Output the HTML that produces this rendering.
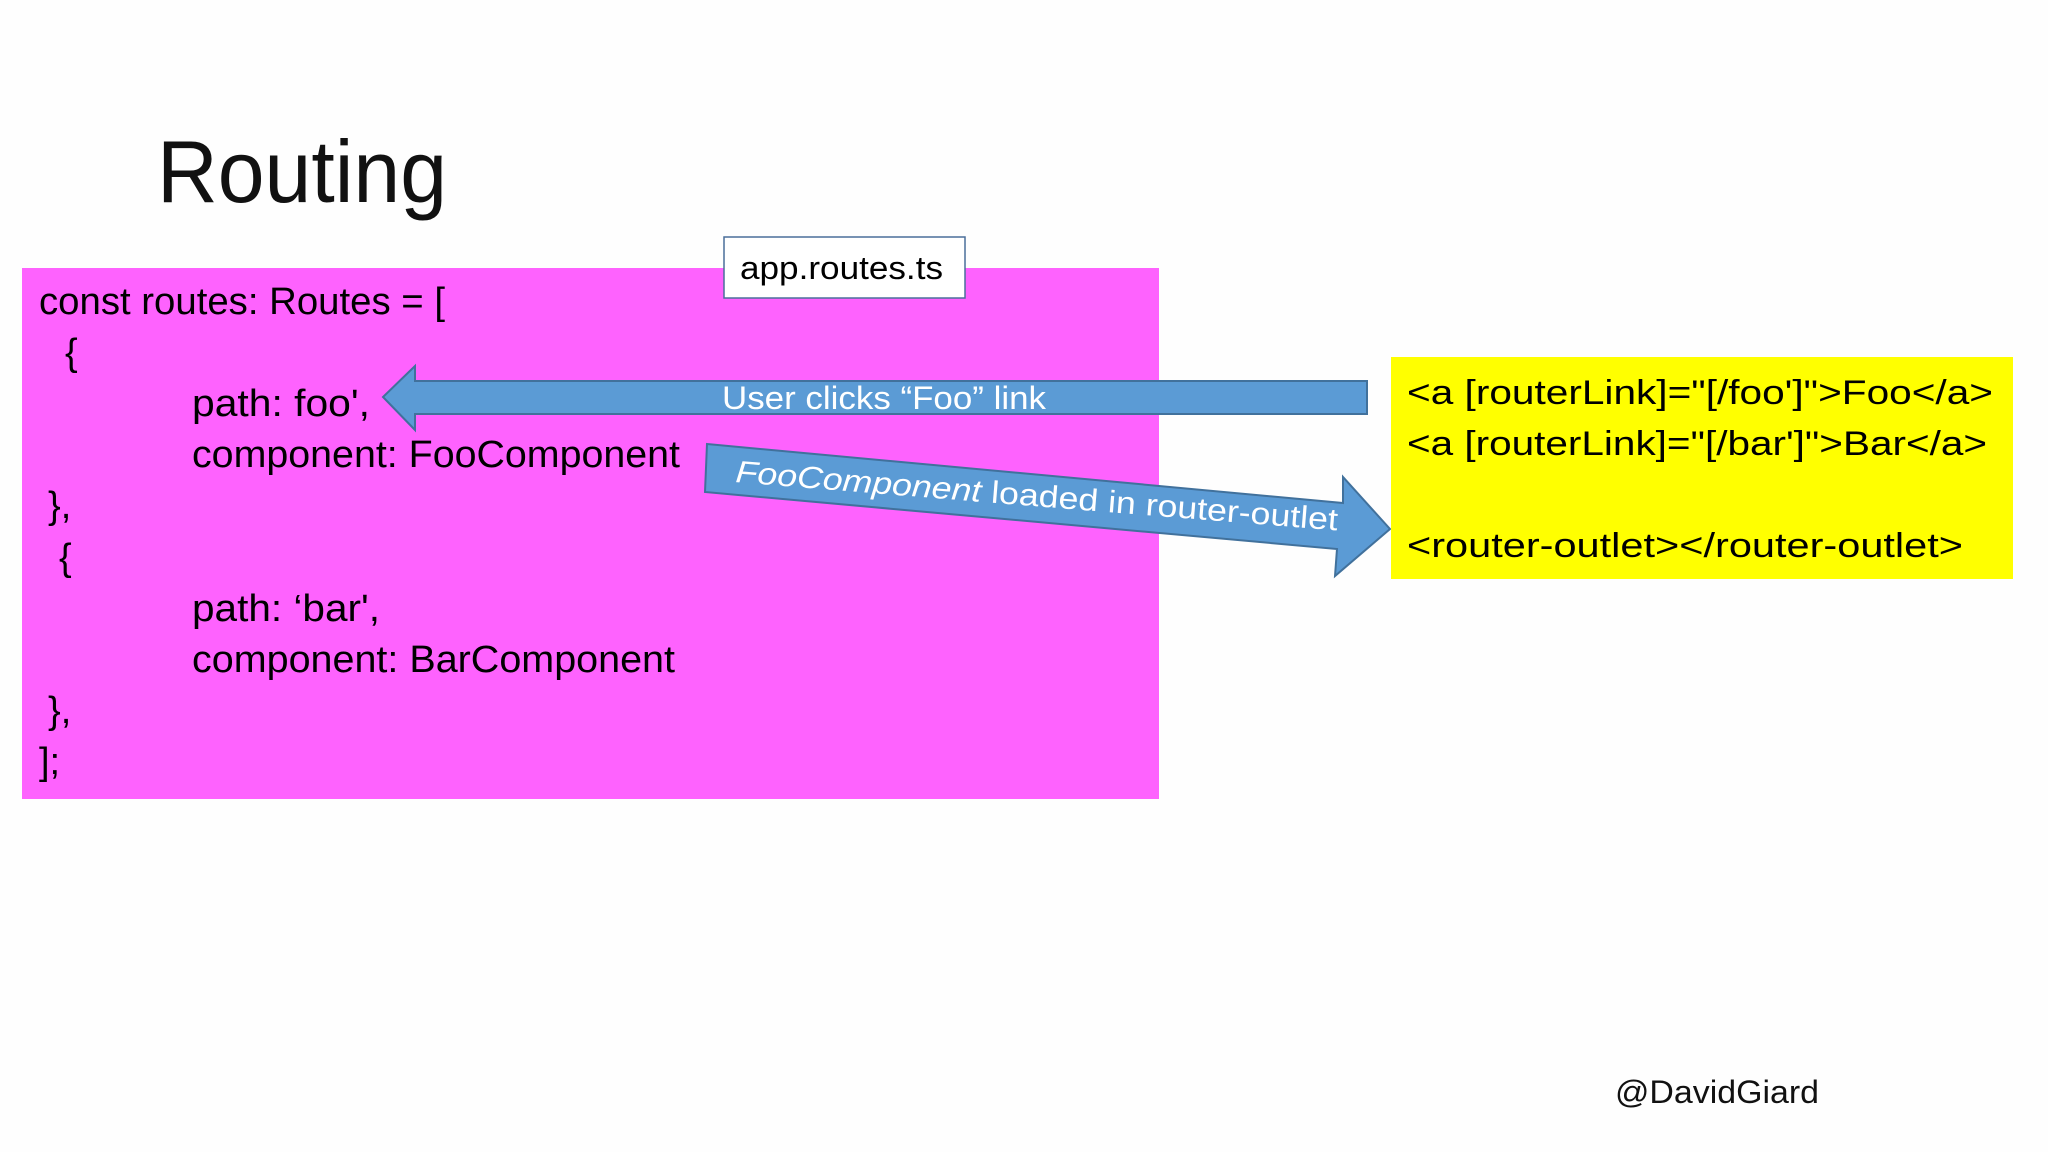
<!DOCTYPE html>
<html><head><meta charset="utf-8"><style>
html,body{margin:0;padding:0;background:#fff;width:2048px;height:1152px;overflow:hidden}
svg{display:block}
text{font-family:"Liberation Sans",sans-serif}
</style></head><body>
<svg width="2048" height="1152" viewBox="0 0 2048 1152" xmlns="http://www.w3.org/2000/svg">
<rect width="2048" height="1152" fill="#fefefe"/>
<text x="157" y="202" font-size="88" fill="#111" textLength="290" lengthAdjust="spacingAndGlyphs">Routing</text>
<rect x="22" y="268" width="1137" height="531" fill="#fe62fe"/>
<g font-size="38" fill="#000">
<text x="39" y="314" textLength="406" lengthAdjust="spacingAndGlyphs">const routes: Routes = [</text>
<text x="65" y="365">{</text>
<text x="192" y="416" textLength="178" lengthAdjust="spacingAndGlyphs">path: foo',</text>
<text x="192" y="467" textLength="488" lengthAdjust="spacingAndGlyphs">component: FooComponent</text>
<text x="48" y="518">},</text>
<text x="59" y="570">{</text>
<text x="192" y="621" textLength="188" lengthAdjust="spacingAndGlyphs">path: ‘bar',</text>
<text x="192" y="672" textLength="483" lengthAdjust="spacingAndGlyphs">component: BarComponent</text>
<text x="48" y="723">},</text>
<text x="39" y="774">];</text>
</g>
<rect x="724" y="237" width="241" height="61" fill="#fff" stroke="#4a6f9a" stroke-width="1.5"/>
<text x="740" y="279" font-size="32" fill="#000" textLength="203" lengthAdjust="spacingAndGlyphs">app.routes.ts</text>
<polygon points="1367,381 415,381 415,366 383,397 415,430 415,414 1367,414" fill="#5b9bd5" stroke="#41719c" stroke-width="2"/>
<text x="722" y="409" font-size="32" fill="#fff" textLength="324" lengthAdjust="spacingAndGlyphs">User clicks “Foo” link</text>
<polygon points="707,444 1343,503 1343,477 1390,529 1335,576 1337,549 705,492" fill="#5b9bd5" stroke="#41719c" stroke-width="2"/>
<text transform="translate(735,482) rotate(4.6)" font-size="31" fill="#fff" textLength="604" lengthAdjust="spacingAndGlyphs"><tspan font-style="italic">FooComponent</tspan> loaded in router-outlet</text>
<rect x="1391" y="357" width="622" height="222" fill="#ffff00"/>
<g font-size="34" fill="#000">
<text x="1407" y="404" textLength="586" lengthAdjust="spacingAndGlyphs">&lt;a [routerLink]="[/foo']"&gt;Foo&lt;/a&gt;</text>
<text x="1407" y="455" textLength="580" lengthAdjust="spacingAndGlyphs">&lt;a [routerLink]="[/bar']"&gt;Bar&lt;/a&gt;</text>
<text x="1407" y="557" textLength="556" lengthAdjust="spacingAndGlyphs">&lt;router-outlet&gt;&lt;/router-outlet&gt;</text>
</g>
<text x="1615" y="1103" font-size="32" fill="#111" textLength="204" lengthAdjust="spacingAndGlyphs">@DavidGiard</text>
</svg>
</body></html>
